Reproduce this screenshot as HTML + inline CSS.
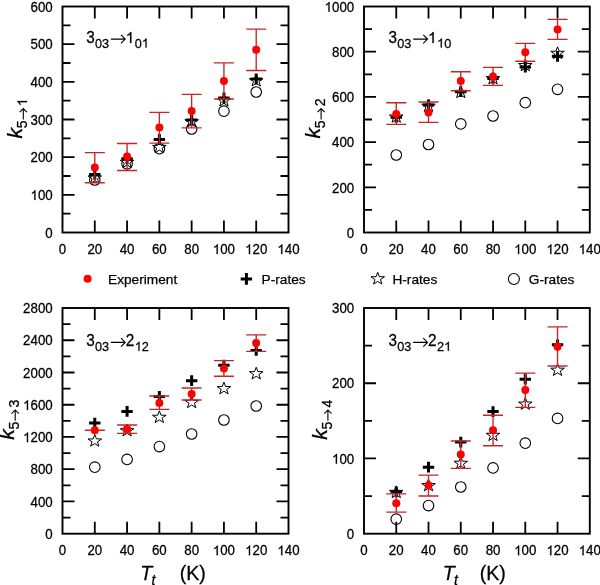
<!DOCTYPE html>
<html><head><meta charset="utf-8"><style>
html,body{margin:0;padding:0;background:#fff;}
svg{display:block;will-change:transform;}
text{font-family:"Liberation Sans", sans-serif;fill:#000;stroke:#000;stroke-width:0.25px;}
.tl{font-size:13.3px;}
.lg{font-size:13.7px;}
.tt{font-size:15.4px;}
.ts{font-size:12.2px;}
.al{font-size:19.6px;}
.as{font-size:13.2px;}
</style></head><body>
<svg width="600" height="585" viewBox="0 0 600 585">
<rect width="600" height="585" fill="#fff"/>
<path d="M94.79,232.50v-12 M94.79,6.50v12 M127.07,232.50v-12 M127.07,6.50v12 M159.36,232.50v-12 M159.36,6.50v12 M191.64,232.50v-12 M191.64,6.50v12 M223.93,232.50v-12 M223.93,6.50v12 M256.21,232.50v-12 M256.21,6.50v12 M62.50,213.67h8 M288.50,213.67h-8 M62.50,194.83h12 M288.50,194.83h-12 M62.50,176.00h8 M288.50,176.00h-8 M62.50,157.17h12 M288.50,157.17h-12 M62.50,138.33h8 M288.50,138.33h-8 M62.50,119.50h12 M288.50,119.50h-12 M62.50,100.67h8 M288.50,100.67h-8 M62.50,81.83h12 M288.50,81.83h-12 M62.50,63.00h8 M288.50,63.00h-8 M62.50,44.17h12 M288.50,44.17h-12 M62.50,25.33h8 M288.50,25.33h-8" stroke="#000" stroke-width="1.8" fill="none"/>
<rect x="62.5" y="6.5" width="226.0" height="226.0" fill="none" stroke="#000" stroke-width="1.9"/>
<g transform="translate(58.80,254.10) scale(1,1.06)"><text x="0" y="0" style="font-size:13.3px">0</text></g>
<g transform="translate(87.39,254.10) scale(1,1.06)"><text x="0" y="0" style="font-size:13.3px">20</text></g>
<g transform="translate(119.67,254.10) scale(1,1.06)"><text x="0" y="0" style="font-size:13.3px">40</text></g>
<g transform="translate(151.96,254.10) scale(1,1.06)"><text x="0" y="0" style="font-size:13.3px">60</text></g>
<g transform="translate(184.25,254.10) scale(1,1.06)"><text x="0" y="0" style="font-size:13.3px">80</text></g>
<g transform="translate(212.83,254.10) scale(1,1.06)"><text x="0" y="0" style="font-size:13.3px"><tspan style="fill:none;stroke:none">1</tspan>00</text><path d="M763,0 L583,0 L583,1147 Q518,1085 465,1054 Q412,1023 359,992 Q306,961 222,930 L222,1104 Q373,1175 429.5,1225.5 Q486,1276 542.5,1326.5 Q599,1377 646,1472 L763,1472 Z" transform="translate(0.00,0) scale(0.00649,-0.00627)" stroke="#000" stroke-width="0.25" vector-effect="non-scaling-stroke"/></g>
<g transform="translate(245.12,254.10) scale(1,1.06)"><text x="0" y="0" style="font-size:13.3px"><tspan style="fill:none;stroke:none">1</tspan>20</text><path d="M763,0 L583,0 L583,1147 Q518,1085 465,1054 Q412,1023 359,992 Q306,961 222,930 L222,1104 Q373,1175 429.5,1225.5 Q486,1276 542.5,1326.5 Q599,1377 646,1472 L763,1472 Z" transform="translate(0.00,0) scale(0.00649,-0.00627)" stroke="#000" stroke-width="0.25" vector-effect="non-scaling-stroke"/></g>
<g transform="translate(277.40,254.10) scale(1,1.06)"><text x="0" y="0" style="font-size:13.3px"><tspan style="fill:none;stroke:none">1</tspan>40</text><path d="M763,0 L583,0 L583,1147 Q518,1085 465,1054 Q412,1023 359,992 Q306,961 222,930 L222,1104 Q373,1175 429.5,1225.5 Q486,1276 542.5,1326.5 Q599,1377 646,1472 L763,1472 Z" transform="translate(0.00,0) scale(0.00649,-0.00627)" stroke="#000" stroke-width="0.25" vector-effect="non-scaling-stroke"/></g>
<g transform="translate(45.30,237.70) scale(1,1.06)"><text x="0" y="0" style="font-size:13.3px">0</text></g>
<g transform="translate(30.51,200.03) scale(1,1.06)"><text x="0" y="0" style="font-size:13.3px"><tspan style="fill:none;stroke:none">1</tspan>00</text><path d="M763,0 L583,0 L583,1147 Q518,1085 465,1054 Q412,1023 359,992 Q306,961 222,930 L222,1104 Q373,1175 429.5,1225.5 Q486,1276 542.5,1326.5 Q599,1377 646,1472 L763,1472 Z" transform="translate(0.00,0) scale(0.00649,-0.00627)" stroke="#000" stroke-width="0.25" vector-effect="non-scaling-stroke"/></g>
<g transform="translate(30.51,162.37) scale(1,1.06)"><text x="0" y="0" style="font-size:13.3px">200</text></g>
<g transform="translate(30.51,124.70) scale(1,1.06)"><text x="0" y="0" style="font-size:13.3px">300</text></g>
<g transform="translate(30.51,87.03) scale(1,1.06)"><text x="0" y="0" style="font-size:13.3px">400</text></g>
<g transform="translate(30.51,49.37) scale(1,1.06)"><text x="0" y="0" style="font-size:13.3px">500</text></g>
<g transform="translate(30.51,11.70) scale(1,1.06)"><text x="0" y="0" style="font-size:13.3px">600</text></g>
<g transform="translate(86.30,42.90) scale(1,1.03)"><text x="0" y="0" style="font-size:15.3px">3</text></g>
<g transform="translate(95.00,47.50) scale(1,1.03)"><text x="0" y="0" style="font-size:12.7px">03</text></g>
<path d="M110.90,39.10 H124.90 M121.00,34.90 L125.20,39.10 L121.00,43.30" fill="none" stroke="#000" stroke-width="1.1" stroke-linejoin="miter"/>
<g transform="translate(125.70,42.90) scale(1,1.03)"><text x="0" y="0" style="font-size:15.3px"><tspan style="fill:none;stroke:none">1</tspan></text><path d="M763,0 L583,0 L583,1147 Q518,1085 465,1054 Q412,1023 359,992 Q306,961 222,930 L222,1104 Q373,1175 429.5,1225.5 Q486,1276 542.5,1326.5 Q599,1377 646,1472 L763,1472 Z" transform="translate(0.00,0) scale(0.00747,-0.00721)" stroke="#000" stroke-width="0.25" vector-effect="non-scaling-stroke"/></g>
<g transform="translate(134.80,47.50) scale(1,1.03)"><text x="0" y="0" style="font-size:12.7px">0<tspan style="fill:none;stroke:none">1</tspan></text><path d="M763,0 L583,0 L583,1147 Q518,1085 465,1054 Q412,1023 359,992 Q306,961 222,930 L222,1104 Q373,1175 429.5,1225.5 Q486,1276 542.5,1326.5 Q599,1377 646,1472 L763,1472 Z" transform="translate(7.06,0) scale(0.00620,-0.00598)" stroke="#000" stroke-width="0.25" vector-effect="non-scaling-stroke"/></g>
<g transform="translate(22.00,139.00) scale(1.0,1.0) rotate(-90)"><text x="0" y="0" class="al" font-style="italic" transform="translate(0.6,0) scale(1.08,1)">k</text><g transform="translate(10.80,5.00)"><text x="0" y="0" style="font-size:14.0px">5</text></g><path d="M19.50,1.30 H30.10 M26.80,-2.30 L30.40,1.30 L26.80,4.90" fill="none" stroke="#000" stroke-width="1.1" stroke-linejoin="miter"/><g transform="translate(32.80,5.00)"><text x="0" y="0" style="font-size:14.0px"><tspan style="fill:none;stroke:none">1</tspan></text><path d="M763,0 L583,0 L583,1147 Q518,1085 465,1054 Q412,1023 359,992 Q306,961 222,930 L222,1104 Q373,1175 429.5,1225.5 Q486,1276 542.5,1326.5 Q599,1377 646,1472 L763,1472 Z" transform="translate(0.00,0) scale(0.00684,-0.00660)" stroke="#000" stroke-width="0.25" vector-effect="non-scaling-stroke"/></g></g>
<g fill="none" stroke="#000" stroke-width="1.1"><circle cx="94.79" cy="180.00" r="5.3"/><circle cx="127.07" cy="163.80" r="5.3"/><circle cx="159.36" cy="148.70" r="5.3"/><circle cx="191.64" cy="129.00" r="5.3"/><circle cx="223.93" cy="111.20" r="5.3"/><circle cx="256.21" cy="92.00" r="5.3"/></g>
<path d="M94.79,171.50 L96.47,175.90 L101.59,175.99 L97.51,178.80 L98.99,183.26 L94.79,180.60 L90.58,183.26 L92.07,178.80 L87.99,175.99 L93.10,175.90 Z M127.07,155.80 L128.75,160.20 L133.87,160.29 L129.79,163.10 L131.27,167.56 L127.07,164.90 L122.87,167.56 L124.35,163.10 L120.27,160.29 L125.39,160.20 Z M159.36,140.90 L161.04,145.30 L166.16,145.39 L162.08,148.20 L163.56,152.66 L159.36,150.00 L155.15,152.66 L156.64,148.20 L152.56,145.39 L157.68,145.30 Z M191.64,115.20 L193.32,119.60 L198.44,119.69 L194.36,122.50 L195.85,126.96 L191.64,124.30 L187.44,126.96 L188.92,122.50 L184.84,119.69 L189.96,119.60 Z M223.93,94.20 L225.61,98.60 L230.73,98.69 L226.65,101.50 L228.13,105.96 L223.93,103.30 L219.73,105.96 L221.21,101.50 L217.13,98.69 L222.25,98.60 Z M256.21,74.20 L257.90,78.60 L263.01,78.69 L258.93,81.50 L260.42,85.96 L256.21,83.30 L252.01,85.96 L253.49,81.50 L249.41,78.69 L254.53,78.60 Z" fill="none" stroke="#000" stroke-width="1.0" stroke-linejoin="miter"/>
<path d="M89.09,174.40 H100.49 M94.79,169.00 V179.80 M121.37,158.80 H132.77 M127.07,153.40 V164.20 M153.66,139.50 H165.06 M159.36,134.10 V144.90 M185.94,120.00 H197.34 M191.64,114.60 V125.40 M218.23,98.00 H229.63 M223.93,92.60 V103.40 M250.51,79.00 H261.91 M256.21,73.60 V84.40" fill="none" stroke="#000" stroke-width="3"/>
<path d="M94.79,152.60V182.70 M84.79,152.60h20 M84.79,182.70h20 M127.07,143.50V170.50 M117.07,143.50h20 M117.07,170.50h20 M159.36,112.30V143.10 M149.36,112.30h20 M149.36,143.10h20 M191.64,94.30V127.80 M181.64,94.30h20 M181.64,127.80h20 M223.93,62.90V99.00 M213.93,62.90h20 M213.93,99.00h20 M256.21,29.10V70.50 M246.21,29.10h20 M246.21,70.50h20" fill="none" stroke="#c42626" stroke-width="1.35"/>
<g fill="#ff0000"><circle cx="94.79" cy="167.60" r="4"/><circle cx="127.07" cy="156.50" r="4"/><circle cx="159.36" cy="127.50" r="4"/><circle cx="191.64" cy="111.00" r="4"/><circle cx="223.93" cy="81.10" r="4"/><circle cx="256.21" cy="49.70" r="4"/></g>
<path d="M396.26,232.50v-12 M396.26,6.50v12 M428.51,232.50v-12 M428.51,6.50v12 M460.77,232.50v-12 M460.77,6.50v12 M493.03,232.50v-12 M493.03,6.50v12 M525.29,232.50v-12 M525.29,6.50v12 M557.54,232.50v-12 M557.54,6.50v12 M364.00,209.90h8 M589.80,209.90h-8 M364.00,187.30h12 M589.80,187.30h-12 M364.00,164.70h8 M589.80,164.70h-8 M364.00,142.10h12 M589.80,142.10h-12 M364.00,119.50h8 M589.80,119.50h-8 M364.00,96.90h12 M589.80,96.90h-12 M364.00,74.30h8 M589.80,74.30h-8 M364.00,51.70h12 M589.80,51.70h-12 M364.00,29.10h8 M589.80,29.10h-8" stroke="#000" stroke-width="1.8" fill="none"/>
<rect x="364" y="6.5" width="225.79999999999995" height="226.0" fill="none" stroke="#000" stroke-width="1.9"/>
<g transform="translate(360.30,254.10) scale(1,1.06)"><text x="0" y="0" style="font-size:13.3px">0</text></g>
<g transform="translate(388.86,254.10) scale(1,1.06)"><text x="0" y="0" style="font-size:13.3px">20</text></g>
<g transform="translate(421.12,254.10) scale(1,1.06)"><text x="0" y="0" style="font-size:13.3px">40</text></g>
<g transform="translate(453.37,254.10) scale(1,1.06)"><text x="0" y="0" style="font-size:13.3px">60</text></g>
<g transform="translate(485.63,254.10) scale(1,1.06)"><text x="0" y="0" style="font-size:13.3px">80</text></g>
<g transform="translate(514.19,254.10) scale(1,1.06)"><text x="0" y="0" style="font-size:13.3px"><tspan style="fill:none;stroke:none">1</tspan>00</text><path d="M763,0 L583,0 L583,1147 Q518,1085 465,1054 Q412,1023 359,992 Q306,961 222,930 L222,1104 Q373,1175 429.5,1225.5 Q486,1276 542.5,1326.5 Q599,1377 646,1472 L763,1472 Z" transform="translate(0.00,0) scale(0.00649,-0.00627)" stroke="#000" stroke-width="0.25" vector-effect="non-scaling-stroke"/></g>
<g transform="translate(546.45,254.10) scale(1,1.06)"><text x="0" y="0" style="font-size:13.3px"><tspan style="fill:none;stroke:none">1</tspan>20</text><path d="M763,0 L583,0 L583,1147 Q518,1085 465,1054 Q412,1023 359,992 Q306,961 222,930 L222,1104 Q373,1175 429.5,1225.5 Q486,1276 542.5,1326.5 Q599,1377 646,1472 L763,1472 Z" transform="translate(0.00,0) scale(0.00649,-0.00627)" stroke="#000" stroke-width="0.25" vector-effect="non-scaling-stroke"/></g>
<g transform="translate(578.70,254.10) scale(1,1.06)"><text x="0" y="0" style="font-size:13.3px"><tspan style="fill:none;stroke:none">1</tspan>40</text><path d="M763,0 L583,0 L583,1147 Q518,1085 465,1054 Q412,1023 359,992 Q306,961 222,930 L222,1104 Q373,1175 429.5,1225.5 Q486,1276 542.5,1326.5 Q599,1377 646,1472 L763,1472 Z" transform="translate(0.00,0) scale(0.00649,-0.00627)" stroke="#000" stroke-width="0.25" vector-effect="non-scaling-stroke"/></g>
<g transform="translate(346.80,237.70) scale(1,1.06)"><text x="0" y="0" style="font-size:13.3px">0</text></g>
<g transform="translate(332.01,192.50) scale(1,1.06)"><text x="0" y="0" style="font-size:13.3px">200</text></g>
<g transform="translate(332.01,147.30) scale(1,1.06)"><text x="0" y="0" style="font-size:13.3px">400</text></g>
<g transform="translate(332.01,102.10) scale(1,1.06)"><text x="0" y="0" style="font-size:13.3px">600</text></g>
<g transform="translate(332.01,56.90) scale(1,1.06)"><text x="0" y="0" style="font-size:13.3px">800</text></g>
<g transform="translate(324.61,11.70) scale(1,1.06)"><text x="0" y="0" style="font-size:13.3px"><tspan style="fill:none;stroke:none">1</tspan>000</text><path d="M763,0 L583,0 L583,1147 Q518,1085 465,1054 Q412,1023 359,992 Q306,961 222,930 L222,1104 Q373,1175 429.5,1225.5 Q486,1276 542.5,1326.5 Q599,1377 646,1472 L763,1472 Z" transform="translate(0.00,0) scale(0.00649,-0.00627)" stroke="#000" stroke-width="0.25" vector-effect="non-scaling-stroke"/></g>
<g transform="translate(388.60,42.90) scale(1,1.03)"><text x="0" y="0" style="font-size:15.3px">3</text></g>
<g transform="translate(397.30,47.50) scale(1,1.03)"><text x="0" y="0" style="font-size:12.7px">03</text></g>
<path d="M413.20,39.10 H427.20 M423.30,34.90 L427.50,39.10 L423.30,43.30" fill="none" stroke="#000" stroke-width="1.1" stroke-linejoin="miter"/>
<g transform="translate(428.00,42.90) scale(1,1.03)"><text x="0" y="0" style="font-size:15.3px"><tspan style="fill:none;stroke:none">1</tspan></text><path d="M763,0 L583,0 L583,1147 Q518,1085 465,1054 Q412,1023 359,992 Q306,961 222,930 L222,1104 Q373,1175 429.5,1225.5 Q486,1276 542.5,1326.5 Q599,1377 646,1472 L763,1472 Z" transform="translate(0.00,0) scale(0.00747,-0.00721)" stroke="#000" stroke-width="0.25" vector-effect="non-scaling-stroke"/></g>
<g transform="translate(437.10,47.50) scale(1,1.03)"><text x="0" y="0" style="font-size:12.7px"><tspan style="fill:none;stroke:none">1</tspan>0</text><path d="M763,0 L583,0 L583,1147 Q518,1085 465,1054 Q412,1023 359,992 Q306,961 222,930 L222,1104 Q373,1175 429.5,1225.5 Q486,1276 542.5,1326.5 Q599,1377 646,1472 L763,1472 Z" transform="translate(0.00,0) scale(0.00620,-0.00598)" stroke="#000" stroke-width="0.25" vector-effect="non-scaling-stroke"/></g>
<g transform="translate(319.80,139.00) scale(1.0,1.0) rotate(-90)"><text x="0" y="0" class="al" font-style="italic" transform="translate(0.6,0) scale(1.08,1)">k</text><g transform="translate(10.80,5.00)"><text x="0" y="0" style="font-size:14.0px">5</text></g><path d="M19.50,1.30 H30.10 M26.80,-2.30 L30.40,1.30 L26.80,4.90" fill="none" stroke="#000" stroke-width="1.1" stroke-linejoin="miter"/><g transform="translate(32.80,5.00)"><text x="0" y="0" style="font-size:14.0px">2</text></g></g>
<g fill="none" stroke="#000" stroke-width="1.1"><circle cx="396.26" cy="155.00" r="5.3"/><circle cx="428.51" cy="144.50" r="5.3"/><circle cx="460.77" cy="123.90" r="5.3"/><circle cx="493.03" cy="116.00" r="5.3"/><circle cx="525.29" cy="102.70" r="5.3"/><circle cx="557.54" cy="89.30" r="5.3"/></g>
<path d="M396.26,110.50 L397.94,114.90 L403.06,114.99 L398.98,117.80 L400.46,122.26 L396.26,119.60 L392.05,122.26 L393.54,117.80 L389.46,114.99 L394.58,114.90 Z M428.51,99.70 L430.20,104.10 L435.31,104.19 L431.23,107.00 L432.72,111.46 L428.51,108.80 L424.31,111.46 L425.79,107.00 L421.71,104.19 L426.83,104.10 Z M460.77,85.90 L462.45,90.30 L467.57,90.39 L463.49,93.20 L464.97,97.66 L460.77,95.00 L456.57,97.66 L458.05,93.20 L453.97,90.39 L459.09,90.30 Z M493.03,72.10 L494.71,76.50 L499.83,76.59 L495.75,79.40 L497.23,83.86 L493.03,81.20 L488.83,83.86 L490.31,79.40 L486.23,76.59 L491.35,76.50 Z M525.29,59.00 L526.97,63.40 L532.09,63.49 L528.01,66.30 L529.49,70.76 L525.29,68.10 L521.08,70.76 L522.57,66.30 L518.49,63.49 L523.60,63.40 Z M557.54,46.80 L559.22,51.20 L564.34,51.29 L560.26,54.10 L561.75,58.56 L557.54,55.90 L553.34,58.56 L554.82,54.10 L550.74,51.29 L555.86,51.20 Z" fill="none" stroke="#000" stroke-width="1.0" stroke-linejoin="miter"/>
<path d="M390.56,117.30 H401.96 M396.26,111.90 V122.70 M422.81,105.00 H434.21 M428.51,99.60 V110.40 M455.07,91.70 H466.47 M460.77,86.30 V97.10 M487.33,78.40 H498.73 M493.03,73.00 V83.80 M519.59,67.00 H530.99 M525.29,61.60 V72.40 M551.84,56.30 H563.24 M557.54,50.90 V61.70" fill="none" stroke="#000" stroke-width="3"/>
<path d="M396.26,102.70V124.30 M386.26,102.70h20 M386.26,124.30h20 M428.51,102.00V122.30 M418.51,102.00h20 M418.51,122.30h20 M460.77,71.70V90.70 M450.77,71.70h20 M450.77,90.70h20 M493.03,67.30V85.30 M483.03,67.30h20 M483.03,85.30h20 M525.29,43.30V61.20 M515.29,43.30h20 M515.29,61.20h20 M557.54,19.30V39.30 M547.54,19.30h20 M547.54,39.30h20" fill="none" stroke="#c42626" stroke-width="1.35"/>
<g fill="#ff0000"><circle cx="396.26" cy="114.00" r="4"/><circle cx="428.51" cy="112.40" r="4"/><circle cx="460.77" cy="81.00" r="4"/><circle cx="493.03" cy="76.40" r="4"/><circle cx="525.29" cy="52.30" r="4"/><circle cx="557.54" cy="29.40" r="4"/></g>
<path d="M94.79,533.70v-12 M94.79,308.00v12 M127.07,533.70v-12 M127.07,308.00v12 M159.36,533.70v-12 M159.36,308.00v12 M191.64,533.70v-12 M191.64,308.00v12 M223.93,533.70v-12 M223.93,308.00v12 M256.21,533.70v-12 M256.21,308.00v12 M62.50,517.58h8 M288.50,517.58h-8 M62.50,501.46h12 M288.50,501.46h-12 M62.50,485.34h8 M288.50,485.34h-8 M62.50,469.21h12 M288.50,469.21h-12 M62.50,453.09h8 M288.50,453.09h-8 M62.50,436.97h12 M288.50,436.97h-12 M62.50,420.85h8 M288.50,420.85h-8 M62.50,404.73h12 M288.50,404.73h-12 M62.50,388.61h8 M288.50,388.61h-8 M62.50,372.49h12 M288.50,372.49h-12 M62.50,356.36h8 M288.50,356.36h-8 M62.50,340.24h12 M288.50,340.24h-12 M62.50,324.12h8 M288.50,324.12h-8" stroke="#000" stroke-width="1.8" fill="none"/>
<rect x="62.5" y="308" width="226.0" height="225.70000000000005" fill="none" stroke="#000" stroke-width="1.9"/>
<g transform="translate(58.80,555.30) scale(1,1.06)"><text x="0" y="0" style="font-size:13.3px">0</text></g>
<g transform="translate(87.39,555.30) scale(1,1.06)"><text x="0" y="0" style="font-size:13.3px">20</text></g>
<g transform="translate(119.67,555.30) scale(1,1.06)"><text x="0" y="0" style="font-size:13.3px">40</text></g>
<g transform="translate(151.96,555.30) scale(1,1.06)"><text x="0" y="0" style="font-size:13.3px">60</text></g>
<g transform="translate(184.25,555.30) scale(1,1.06)"><text x="0" y="0" style="font-size:13.3px">80</text></g>
<g transform="translate(212.83,555.30) scale(1,1.06)"><text x="0" y="0" style="font-size:13.3px"><tspan style="fill:none;stroke:none">1</tspan>00</text><path d="M763,0 L583,0 L583,1147 Q518,1085 465,1054 Q412,1023 359,992 Q306,961 222,930 L222,1104 Q373,1175 429.5,1225.5 Q486,1276 542.5,1326.5 Q599,1377 646,1472 L763,1472 Z" transform="translate(0.00,0) scale(0.00649,-0.00627)" stroke="#000" stroke-width="0.25" vector-effect="non-scaling-stroke"/></g>
<g transform="translate(245.12,555.30) scale(1,1.06)"><text x="0" y="0" style="font-size:13.3px"><tspan style="fill:none;stroke:none">1</tspan>20</text><path d="M763,0 L583,0 L583,1147 Q518,1085 465,1054 Q412,1023 359,992 Q306,961 222,930 L222,1104 Q373,1175 429.5,1225.5 Q486,1276 542.5,1326.5 Q599,1377 646,1472 L763,1472 Z" transform="translate(0.00,0) scale(0.00649,-0.00627)" stroke="#000" stroke-width="0.25" vector-effect="non-scaling-stroke"/></g>
<g transform="translate(277.40,555.30) scale(1,1.06)"><text x="0" y="0" style="font-size:13.3px"><tspan style="fill:none;stroke:none">1</tspan>40</text><path d="M763,0 L583,0 L583,1147 Q518,1085 465,1054 Q412,1023 359,992 Q306,961 222,930 L222,1104 Q373,1175 429.5,1225.5 Q486,1276 542.5,1326.5 Q599,1377 646,1472 L763,1472 Z" transform="translate(0.00,0) scale(0.00649,-0.00627)" stroke="#000" stroke-width="0.25" vector-effect="non-scaling-stroke"/></g>
<g transform="translate(45.30,538.90) scale(1,1.06)"><text x="0" y="0" style="font-size:13.3px">0</text></g>
<g transform="translate(30.51,506.66) scale(1,1.06)"><text x="0" y="0" style="font-size:13.3px">400</text></g>
<g transform="translate(30.51,474.41) scale(1,1.06)"><text x="0" y="0" style="font-size:13.3px">800</text></g>
<g transform="translate(23.11,442.17) scale(1,1.06)"><text x="0" y="0" style="font-size:13.3px"><tspan style="fill:none;stroke:none">1</tspan>200</text><path d="M763,0 L583,0 L583,1147 Q518,1085 465,1054 Q412,1023 359,992 Q306,961 222,930 L222,1104 Q373,1175 429.5,1225.5 Q486,1276 542.5,1326.5 Q599,1377 646,1472 L763,1472 Z" transform="translate(0.00,0) scale(0.00649,-0.00627)" stroke="#000" stroke-width="0.25" vector-effect="non-scaling-stroke"/></g>
<g transform="translate(23.11,409.93) scale(1,1.06)"><text x="0" y="0" style="font-size:13.3px"><tspan style="fill:none;stroke:none">1</tspan>600</text><path d="M763,0 L583,0 L583,1147 Q518,1085 465,1054 Q412,1023 359,992 Q306,961 222,930 L222,1104 Q373,1175 429.5,1225.5 Q486,1276 542.5,1326.5 Q599,1377 646,1472 L763,1472 Z" transform="translate(0.00,0) scale(0.00649,-0.00627)" stroke="#000" stroke-width="0.25" vector-effect="non-scaling-stroke"/></g>
<g transform="translate(23.11,377.69) scale(1,1.06)"><text x="0" y="0" style="font-size:13.3px">2000</text></g>
<g transform="translate(23.11,345.44) scale(1,1.06)"><text x="0" y="0" style="font-size:13.3px">2400</text></g>
<g transform="translate(23.11,313.20) scale(1,1.06)"><text x="0" y="0" style="font-size:13.3px">2800</text></g>
<g transform="translate(86.30,346.20) scale(1,1.03)"><text x="0" y="0" style="font-size:15.3px">3</text></g>
<g transform="translate(95.00,350.80) scale(1,1.03)"><text x="0" y="0" style="font-size:12.7px">03</text></g>
<path d="M110.90,342.40 H124.90 M121.00,338.20 L125.20,342.40 L121.00,346.60" fill="none" stroke="#000" stroke-width="1.1" stroke-linejoin="miter"/>
<g transform="translate(125.70,346.20) scale(1,1.03)"><text x="0" y="0" style="font-size:15.3px">2</text></g>
<g transform="translate(134.80,350.80) scale(1,1.03)"><text x="0" y="0" style="font-size:12.7px"><tspan style="fill:none;stroke:none">1</tspan>2</text><path d="M763,0 L583,0 L583,1147 Q518,1085 465,1054 Q412,1023 359,992 Q306,961 222,930 L222,1104 Q373,1175 429.5,1225.5 Q486,1276 542.5,1326.5 Q599,1377 646,1472 L763,1472 Z" transform="translate(0.00,0) scale(0.00620,-0.00598)" stroke="#000" stroke-width="0.25" vector-effect="non-scaling-stroke"/></g>
<g transform="translate(13.90,440.35) scale(1.0,1.0) rotate(-90)"><text x="0" y="0" class="al" font-style="italic" transform="translate(0.6,0) scale(1.08,1)">k</text><g transform="translate(10.80,5.00)"><text x="0" y="0" style="font-size:14.0px">5</text></g><path d="M19.50,1.30 H30.10 M26.80,-2.30 L30.40,1.30 L26.80,4.90" fill="none" stroke="#000" stroke-width="1.1" stroke-linejoin="miter"/><g transform="translate(32.80,5.00)"><text x="0" y="0" style="font-size:14.0px">3</text></g></g>
<g fill="none" stroke="#000" stroke-width="1.1"><circle cx="94.79" cy="467.20" r="5.3"/><circle cx="127.07" cy="459.40" r="5.3"/><circle cx="159.36" cy="446.60" r="5.3"/><circle cx="191.64" cy="434.00" r="5.3"/><circle cx="223.93" cy="420.00" r="5.3"/><circle cx="256.21" cy="406.00" r="5.3"/></g>
<path d="M94.79,434.50 L96.47,438.90 L101.59,438.99 L97.51,441.80 L98.99,446.26 L94.79,443.60 L90.58,446.26 L92.07,441.80 L87.99,438.99 L93.10,438.90 Z M127.07,424.20 L128.75,428.60 L133.87,428.69 L129.79,431.50 L131.27,435.96 L127.07,433.30 L122.87,435.96 L124.35,431.50 L120.27,428.69 L125.39,428.60 Z M159.36,410.80 L161.04,415.20 L166.16,415.29 L162.08,418.10 L163.56,422.56 L159.36,419.90 L155.15,422.56 L156.64,418.10 L152.56,415.29 L157.68,415.20 Z M191.64,395.90 L193.32,400.30 L198.44,400.39 L194.36,403.20 L195.85,407.66 L191.64,405.00 L187.44,407.66 L188.92,403.20 L184.84,400.39 L189.96,400.30 Z M223.93,382.10 L225.61,386.50 L230.73,386.59 L226.65,389.40 L228.13,393.86 L223.93,391.20 L219.73,393.86 L221.21,389.40 L217.13,386.59 L222.25,386.50 Z M256.21,367.20 L257.90,371.60 L263.01,371.69 L258.93,374.50 L260.42,378.96 L256.21,376.30 L252.01,378.96 L253.49,374.50 L249.41,371.69 L254.53,371.60 Z" fill="none" stroke="#000" stroke-width="1.0" stroke-linejoin="miter"/>
<path d="M89.09,423.10 H100.49 M94.79,417.70 V428.50 M121.37,411.40 H132.77 M127.07,406.00 V416.80 M153.66,396.40 H165.06 M159.36,391.00 V401.80 M185.94,380.70 H197.34 M191.64,375.30 V386.10 M218.23,365.20 H229.63 M223.93,359.80 V370.60 M250.51,350.40 H261.91 M256.21,345.00 V355.80" fill="none" stroke="#000" stroke-width="3"/>
<path d="M94.79,430.20V430.20 M84.79,430.20h20 M84.79,430.20h20 M127.07,425.00V433.30 M117.07,425.00h20 M117.07,433.30h20 M159.36,396.00V409.40 M149.36,396.00h20 M149.36,409.40h20 M191.64,388.00V400.00 M181.64,388.00h20 M181.64,400.00h20 M223.93,360.60V376.20 M213.93,360.60h20 M213.93,376.20h20 M256.21,334.90V351.30 M246.21,334.90h20 M246.21,351.30h20" fill="none" stroke="#c42626" stroke-width="1.35"/>
<g fill="#ff0000"><circle cx="94.79" cy="430.20" r="4"/><circle cx="127.07" cy="428.90" r="4"/><circle cx="159.36" cy="402.90" r="4"/><circle cx="191.64" cy="394.00" r="4"/><circle cx="223.93" cy="368.60" r="4"/><circle cx="256.21" cy="343.00" r="4"/></g>
<path d="M396.26,533.70v-12 M396.26,308.00v12 M428.51,533.70v-12 M428.51,308.00v12 M460.77,533.70v-12 M460.77,308.00v12 M493.03,533.70v-12 M493.03,308.00v12 M525.29,533.70v-12 M525.29,308.00v12 M557.54,533.70v-12 M557.54,308.00v12 M364.00,496.08h8 M589.80,496.08h-8 M364.00,458.47h12 M589.80,458.47h-12 M364.00,420.85h8 M589.80,420.85h-8 M364.00,383.23h12 M589.80,383.23h-12 M364.00,345.62h8 M589.80,345.62h-8" stroke="#000" stroke-width="1.8" fill="none"/>
<rect x="364" y="308.0" width="225.79999999999995" height="225.70000000000005" fill="none" stroke="#000" stroke-width="1.9"/>
<g transform="translate(360.30,555.30) scale(1,1.06)"><text x="0" y="0" style="font-size:13.3px">0</text></g>
<g transform="translate(388.86,555.30) scale(1,1.06)"><text x="0" y="0" style="font-size:13.3px">20</text></g>
<g transform="translate(421.12,555.30) scale(1,1.06)"><text x="0" y="0" style="font-size:13.3px">40</text></g>
<g transform="translate(453.37,555.30) scale(1,1.06)"><text x="0" y="0" style="font-size:13.3px">60</text></g>
<g transform="translate(485.63,555.30) scale(1,1.06)"><text x="0" y="0" style="font-size:13.3px">80</text></g>
<g transform="translate(514.19,555.30) scale(1,1.06)"><text x="0" y="0" style="font-size:13.3px"><tspan style="fill:none;stroke:none">1</tspan>00</text><path d="M763,0 L583,0 L583,1147 Q518,1085 465,1054 Q412,1023 359,992 Q306,961 222,930 L222,1104 Q373,1175 429.5,1225.5 Q486,1276 542.5,1326.5 Q599,1377 646,1472 L763,1472 Z" transform="translate(0.00,0) scale(0.00649,-0.00627)" stroke="#000" stroke-width="0.25" vector-effect="non-scaling-stroke"/></g>
<g transform="translate(546.45,555.30) scale(1,1.06)"><text x="0" y="0" style="font-size:13.3px"><tspan style="fill:none;stroke:none">1</tspan>20</text><path d="M763,0 L583,0 L583,1147 Q518,1085 465,1054 Q412,1023 359,992 Q306,961 222,930 L222,1104 Q373,1175 429.5,1225.5 Q486,1276 542.5,1326.5 Q599,1377 646,1472 L763,1472 Z" transform="translate(0.00,0) scale(0.00649,-0.00627)" stroke="#000" stroke-width="0.25" vector-effect="non-scaling-stroke"/></g>
<g transform="translate(578.70,555.30) scale(1,1.06)"><text x="0" y="0" style="font-size:13.3px"><tspan style="fill:none;stroke:none">1</tspan>40</text><path d="M763,0 L583,0 L583,1147 Q518,1085 465,1054 Q412,1023 359,992 Q306,961 222,930 L222,1104 Q373,1175 429.5,1225.5 Q486,1276 542.5,1326.5 Q599,1377 646,1472 L763,1472 Z" transform="translate(0.00,0) scale(0.00649,-0.00627)" stroke="#000" stroke-width="0.25" vector-effect="non-scaling-stroke"/></g>
<g transform="translate(346.80,538.90) scale(1,1.06)"><text x="0" y="0" style="font-size:13.3px">0</text></g>
<g transform="translate(332.01,463.67) scale(1,1.06)"><text x="0" y="0" style="font-size:13.3px"><tspan style="fill:none;stroke:none">1</tspan>00</text><path d="M763,0 L583,0 L583,1147 Q518,1085 465,1054 Q412,1023 359,992 Q306,961 222,930 L222,1104 Q373,1175 429.5,1225.5 Q486,1276 542.5,1326.5 Q599,1377 646,1472 L763,1472 Z" transform="translate(0.00,0) scale(0.00649,-0.00627)" stroke="#000" stroke-width="0.25" vector-effect="non-scaling-stroke"/></g>
<g transform="translate(332.01,388.43) scale(1,1.06)"><text x="0" y="0" style="font-size:13.3px">200</text></g>
<g transform="translate(332.01,313.20) scale(1,1.06)"><text x="0" y="0" style="font-size:13.3px">300</text></g>
<g transform="translate(388.60,346.20) scale(1,1.03)"><text x="0" y="0" style="font-size:15.3px">3</text></g>
<g transform="translate(397.30,350.80) scale(1,1.03)"><text x="0" y="0" style="font-size:12.7px">03</text></g>
<path d="M413.20,342.40 H427.20 M423.30,338.20 L427.50,342.40 L423.30,346.60" fill="none" stroke="#000" stroke-width="1.1" stroke-linejoin="miter"/>
<g transform="translate(428.00,346.20) scale(1,1.03)"><text x="0" y="0" style="font-size:15.3px">2</text></g>
<g transform="translate(437.10,350.80) scale(1,1.03)"><text x="0" y="0" style="font-size:12.7px">2<tspan style="fill:none;stroke:none">1</tspan></text><path d="M763,0 L583,0 L583,1147 Q518,1085 465,1054 Q412,1023 359,992 Q306,961 222,930 L222,1104 Q373,1175 429.5,1225.5 Q486,1276 542.5,1326.5 Q599,1377 646,1472 L763,1472 Z" transform="translate(7.06,0) scale(0.00620,-0.00598)" stroke="#000" stroke-width="0.25" vector-effect="non-scaling-stroke"/></g>
<g transform="translate(326.60,440.35) scale(1.0,1.0) rotate(-90)"><text x="0" y="0" class="al" font-style="italic" transform="translate(0.6,0) scale(1.08,1)">k</text><g transform="translate(10.80,5.00)"><text x="0" y="0" style="font-size:14.0px">5</text></g><path d="M19.50,1.30 H30.10 M26.80,-2.30 L30.40,1.30 L26.80,4.90" fill="none" stroke="#000" stroke-width="1.1" stroke-linejoin="miter"/><g transform="translate(32.80,5.00)"><text x="0" y="0" style="font-size:14.0px">4</text></g></g>
<g fill="none" stroke="#000" stroke-width="1.1"><circle cx="396.26" cy="519.20" r="5.3"/><circle cx="428.51" cy="505.60" r="5.3"/><circle cx="460.77" cy="487.00" r="5.3"/><circle cx="493.03" cy="467.90" r="5.3"/><circle cx="525.29" cy="443.20" r="5.3"/><circle cx="557.54" cy="418.40" r="5.3"/></g>
<path d="M396.26,485.90 L397.94,490.30 L403.06,490.39 L398.98,493.20 L400.46,497.66 L396.26,495.00 L392.05,497.66 L393.54,493.20 L389.46,490.39 L394.58,490.30 Z M428.51,479.10 L430.20,483.50 L435.31,483.59 L431.23,486.40 L432.72,490.86 L428.51,488.20 L424.31,490.86 L425.79,486.40 L421.71,483.59 L426.83,483.50 Z M460.77,456.80 L462.45,461.20 L467.57,461.29 L463.49,464.10 L464.97,468.56 L460.77,465.90 L456.57,468.56 L458.05,464.10 L453.97,461.29 L459.09,461.20 Z M493.03,428.80 L494.71,433.20 L499.83,433.29 L495.75,436.10 L497.23,440.56 L493.03,437.90 L488.83,440.56 L490.31,436.10 L486.23,433.29 L491.35,433.20 Z M525.29,397.60 L526.97,402.00 L532.09,402.09 L528.01,404.90 L529.49,409.36 L525.29,406.70 L521.08,409.36 L522.57,404.90 L518.49,402.09 L523.60,402.00 Z M557.54,363.70 L559.22,368.10 L564.34,368.19 L560.26,371.00 L561.75,375.46 L557.54,372.80 L553.34,375.46 L554.82,371.00 L550.74,368.19 L555.86,368.10 Z" fill="none" stroke="#000" stroke-width="1.0" stroke-linejoin="miter"/>
<path d="M390.56,491.80 H401.96 M396.26,486.40 V497.20 M422.81,467.20 H434.21 M428.51,461.80 V472.60 M455.07,442.10 H466.47 M460.77,436.70 V447.50 M487.33,411.60 H498.73 M493.03,406.20 V417.00 M519.59,379.20 H530.99 M525.29,373.80 V384.60 M551.84,344.80 H563.24 M557.54,339.40 V350.20" fill="none" stroke="#000" stroke-width="3"/>
<path d="M396.26,493.80V512.10 M386.26,493.80h20 M386.26,512.10h20 M428.51,475.10V496.00 M418.51,475.10h20 M418.51,496.00h20 M460.77,441.00V468.30 M450.77,441.00h20 M450.77,468.30h20 M493.03,415.20V445.70 M483.03,415.20h20 M483.03,445.70h20 M525.29,373.10V407.30 M515.29,373.10h20 M515.29,407.30h20 M557.54,326.90V366.00 M547.54,326.90h20 M547.54,366.00h20" fill="none" stroke="#c42626" stroke-width="1.35"/>
<g fill="#ff0000"><circle cx="396.26" cy="503.30" r="4"/><circle cx="428.51" cy="485.20" r="4"/><circle cx="460.77" cy="454.60" r="4"/><circle cx="493.03" cy="430.20" r="4"/><circle cx="525.29" cy="390.00" r="4"/><circle cx="557.54" cy="346.70" r="4"/></g>
<g transform="translate(0,580.0) scale(1,1.06)">
<text x="140.20" y="0" class="al" font-style="italic">T</text>
<text x="151.40" y="5" style="font-size:14.0px" font-style="italic">t</text>
<text x="179.70" y="0" class="al">(K)</text>
</g>
<g transform="translate(0,580.0) scale(1,1.06)">
<text x="442.70" y="0" class="al" font-style="italic">T</text>
<text x="453.90" y="5" style="font-size:14.0px" font-style="italic">t</text>
<text x="479.70" y="0" class="al">(K)</text>
</g>
<circle cx="87.6" cy="278.7" r="4" fill="#ff0000"/>
<text x="108.0" y="284" class="lg">Experiment</text>
<path d="M240.70,278.90 H252.10 M246.40,273.10 V284.70" stroke="#000" stroke-width="3" fill="none"/>
<text x="261.6" y="284" class="lg">P-rates</text>
<path d="M377.70,272.30 L379.38,276.70 L384.50,276.79 L380.42,279.60 L381.90,284.06 L377.70,281.40 L373.50,284.06 L374.98,279.60 L370.90,276.79 L376.02,276.70 Z" stroke="#000" stroke-width="1.0" fill="none"/>
<text x="392.4" y="284" class="lg">H-rates</text>
<circle cx="513.9" cy="279" r="5.5" fill="none" stroke="#000" stroke-width="1.1"/>
<text x="528.8" y="284" class="lg">G-rates</text>
</svg>
</body></html>
